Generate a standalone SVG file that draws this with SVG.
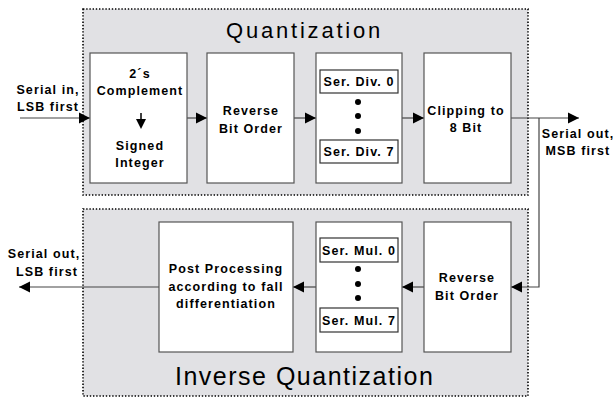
<svg xmlns="http://www.w3.org/2000/svg" width="613" height="398" viewBox="0 0 613 398">
<defs>
<marker id="ah" markerUnits="userSpaceOnUse" markerWidth="12" markerHeight="12" viewBox="0 0 12 12" refX="11" refY="6" orient="auto">
<path d="M0,0.5 L11,6 L0,11.5 Z" fill="#000"/>
</marker>
</defs>
<style>
.panel{fill:#e1e1e4;stroke:#000;stroke-width:1.6;stroke-dasharray:1.4 1.8}
.box{fill:#fff;stroke:#555;stroke-width:1.2}
.sub{fill:#fff;stroke:#333;stroke-width:1.2}
.t{font-family:"Liberation Sans",Arial,sans-serif;font-weight:bold;font-size:12.5px;letter-spacing:1.1px;fill:#000;text-anchor:middle}
.title{font-family:"Liberation Sans",Arial,sans-serif;font-weight:normal;fill:#000}
.c{fill:none;stroke:#444;stroke-width:1.2}
.dot{fill:#000}
</style>
<rect class="panel" x="83" y="9" width="445" height="186"/>
<rect class="panel" x="83" y="209" width="445" height="187"/>
<text class="title" x="226" y="38" font-size="22" letter-spacing="2.8">Quantization</text>
<text class="title" x="175" y="385" font-size="25" letter-spacing="1.5">Inverse Quantization</text>
<g id="connectors">
<line class="c" x1="20" y1="118" x2="90" y2="118" marker-end="url(#ah)"/>
<line class="c" x1="187" y1="118" x2="207" y2="118" marker-end="url(#ah)"/>
<line class="c" x1="294" y1="118" x2="316" y2="118" marker-end="url(#ah)"/>
<line class="c" x1="402" y1="118" x2="424" y2="118" marker-end="url(#ah)"/>
<line class="c" x1="511" y1="118" x2="579" y2="118" marker-end="url(#ah)"/>
<polyline class="c" points="539,118 539,287 511,287" marker-end="url(#ah)"/>
<line class="c" x1="424" y1="287" x2="402" y2="287" marker-end="url(#ah)"/>
<line class="c" x1="316" y1="287" x2="293" y2="287" marker-end="url(#ah)"/>
<line class="c" x1="159" y1="287" x2="19" y2="287" marker-end="url(#ah)"/>
</g>
<g id="lbl-in">
<text class="t" x="48" y="94">Serial in,</text>
<text class="t" x="48" y="111">LSB first</text>
</g>
<g id="lbl-out-msb">
<text class="t" x="578" y="138" font-size="12" letter-spacing="0.5">Serial out,</text>
<text class="t" x="578" y="155" font-size="12" letter-spacing="0.8">MSB first</text>
</g>
<g id="lbl-out-lsb">
<text class="t" x="44" y="258">Serial out,</text>
<text class="t" x="47" y="276">LSB first</text>
</g>
<g id="twos">
<rect class="box" x="90" y="53" width="97" height="130"/>
<text class="t" x="140" y="78">2´s</text>
<text class="t" x="140" y="95">Complement</text>
<line x1="141" y1="113" x2="141" y2="122" stroke="#000" stroke-width="1.5"/>
<path d="M136,119 L146,119 L141,129 Z" fill="#000"/>
<text class="t" x="140" y="150">Signed</text>
<text class="t" x="140" y="167">Integer</text>
</g>
<g id="rev1">
<rect class="box" x="207" y="53" width="87" height="130"/>
<text class="t" x="251" y="115">Reverse</text>
<text class="t" x="251" y="133">Bit Order</text>
</g>
<g id="serdiv">
<rect class="box" x="316" y="53" width="86" height="130"/>
<rect class="sub" x="320" y="70" width="78" height="23"/>
<text class="t" x="359" y="86">Ser. Div. 0</text>
<circle class="dot" cx="358" cy="102" r="3"/>
<circle class="dot" cx="358" cy="116" r="3"/>
<circle class="dot" cx="358" cy="131" r="3"/>
<rect class="sub" x="320" y="140" width="78" height="23"/>
<text class="t" x="359" y="156">Ser. Div. 7</text>
</g>
<g id="clip">
<rect class="box" x="424" y="53" width="87" height="130"/>
<text class="t" x="466" y="115">Clipping to</text>
<text class="t" x="466" y="132">8 Bit</text>
</g>
<g id="post">
<rect class="box" x="159" y="222" width="134" height="130"/>
<text class="t" x="226" y="273">Post Processing</text>
<text class="t" x="226" y="291">according to fall</text>
<text class="t" x="226" y="308">differentiation</text>
</g>
<g id="sermul">
<rect class="box" x="316" y="222" width="86" height="130"/>
<rect class="sub" x="320" y="238" width="78" height="24"/>
<text class="t" x="359" y="255">Ser. Mul. 0</text>
<circle class="dot" cx="358" cy="269" r="3"/>
<circle class="dot" cx="358" cy="284" r="3"/>
<circle class="dot" cx="358" cy="298" r="3"/>
<rect class="sub" x="320" y="308" width="78" height="24"/>
<text class="t" x="359" y="325">Ser. Mul. 7</text>
</g>
<g id="rev2">
<rect class="box" x="424" y="222" width="87" height="130"/>
<text class="t" x="467" y="282">Reverse</text>
<text class="t" x="467" y="300">Bit Order</text>
</g>
</svg>
